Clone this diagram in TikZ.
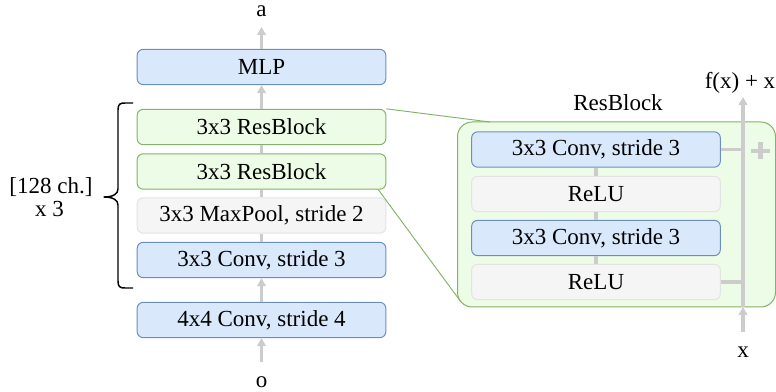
\documentclass[tikz,border=0pt]{standalone}
\usepackage{fontspec}
\setmainfont{Liberation Serif}
\usetikzlibrary{arrows.meta}

\definecolor{blueFill}{HTML}{DAE8FC}
\definecolor{blueLine}{HTML}{6C8EBF}
\definecolor{greenFill}{HTML}{EDFCE6}
\definecolor{greenLine}{HTML}{82B366}
\definecolor{grayFill}{HTML}{F5F5F5}
\definecolor{grayLine}{HTML}{E3E3E3}
\definecolor{wire}{HTML}{CCCCCC}

\tikzset{
  layer/.style={rectangle, rounded corners=4.5pt, line width=0.75pt,
    minimum width=186.5pt, minimum height=26.5pt, inner sep=0pt,
    font=\fontsize{17.25}{20}\selectfont},
  convbox/.style={layer, fill=blueFill, draw=blueLine},
  resbox/.style={layer, fill=greenFill, draw=greenLine},
  plainbox/.style={layer, fill=grayFill, draw=grayLine},
  label/.style={inner sep=0pt, font=\fontsize{17.25}{20}\selectfont},
  link/.style={draw=wire, line width=2.6pt},
  flow/.style={link, -{Triangle[width=6.5pt,length=6pt]}},
  zoomline/.style={draw=greenLine, line width=0.7pt},
}

\begin{document}
\begin{tikzpicture}[x=0.75pt, y=-0.75pt]
\useasboundingbox (0,0) rectangle (776,392);

% ResBlock detail panel and its zoom lines
\node[rectangle, rounded corners=11pt, fill=greenFill, draw=greenLine,
      line width=0.75pt, minimum width=238.5pt, minimum height=138.75pt,
      inner sep=0pt] (panel) at (616.5,214.5) {};
\coordinate (zt) at (490,122);
\coordinate (zb) at (461,302);

% main stack
\node[convbox]  (mlp)  at (261.5,67)    {MLP};
\node[resbox]   (rb1)  at (261.5,127)   {3x3 ResBlock};
\node[resbox]   (rb2)  at (261.5,171.5) {3x3 ResBlock};
\node[plainbox] (pool) at (261.5,215.5) {3x3 MaxPool, stride 2};
\node[convbox]  (c3)   at (261.5,260)   {3x3 Conv, stride 3};
\node[convbox]  (c4)   at (261.5,320)   {4x4 Conv, stride 4};

\draw[zoomline] (rb1.north east) -- (zt);
\draw[zoomline] ([xshift=-6pt]rb2.south east) -- (zb);

\node[label] (lo) at (261.5,382) {o};
\node[label] (la) at (261.5,11) {a};
\coordinate (oin) at (261.5,362);
\coordinate (aout) at (261.5,27);

\draw[flow] (oin) -- (c4.south);
\draw[flow] (c4.north) -- (c3.south);
\draw[link] (c3.north) -- (pool.south);
\draw[link] (pool.north) -- (rb2.south);
\draw[link] (rb2.north) -- (rb1.south);
\draw[flow] (rb1.north) -- (mlp.south);
\draw[flow] (mlp.north) -- (aout);

% repeat brace
\draw[line width=1.1pt, line join=round]
  (133,103) -- (125,103) .. controls (120,103) and (118,104) .. (118,110)
  -- (118,189) .. controls (118,194) and (113,197) .. (104,197)
  .. controls (113,197) and (118,200) .. (118,205)
  -- (118,281) .. controls (118,287) and (120,288) .. (125,288) -- (133,288);
\node[label, anchor=base] (ch) at (51,194) {[128 ch.]};
\node[label, anchor=base] (rep) at (49.5,216.5) {x 3};

% ResBlock internals
\node[label] (rbt) at (618,103) {ResBlock};
\node[convbox]  (r1) at (596,149.5) {3x3 Conv, stride 3};
\node[plainbox] (r2) at (596,194)   {ReLU};
\node[convbox]  (r3) at (596,238)   {3x3 Conv, stride 3};
\node[plainbox] (r4) at (596,282)   {ReLU};

\draw[link] (r1.south) -- (r2.north);
\draw[link] (r2.south) -- (r3.north);
\draw[link] (r3.south) -- (r4.north);

% skip connection
\coordinate (xin)  at (743,332);
\coordinate (sbot) at (743,307);
\coordinate (stop) at (743,97);
\draw[flow] (xin) -- (sbot);
\draw[flow] (sbot) -- (stop);
\draw[link] (r1.east) -- (r1.east -| sbot);
\draw[link] (r4.east) -- (r4.east -| sbot);
\draw[draw=wire, line width=3.6pt] (751,151) -- (770,151);
\draw[draw=wire, line width=3.6pt] (760.5,142.5) -- (760.5,159.5);

\node[label] (fx) at (740,83) {f(x) + x};
\node[label] (lx) at (743,352) {x};
\end{tikzpicture}
\end{document}
